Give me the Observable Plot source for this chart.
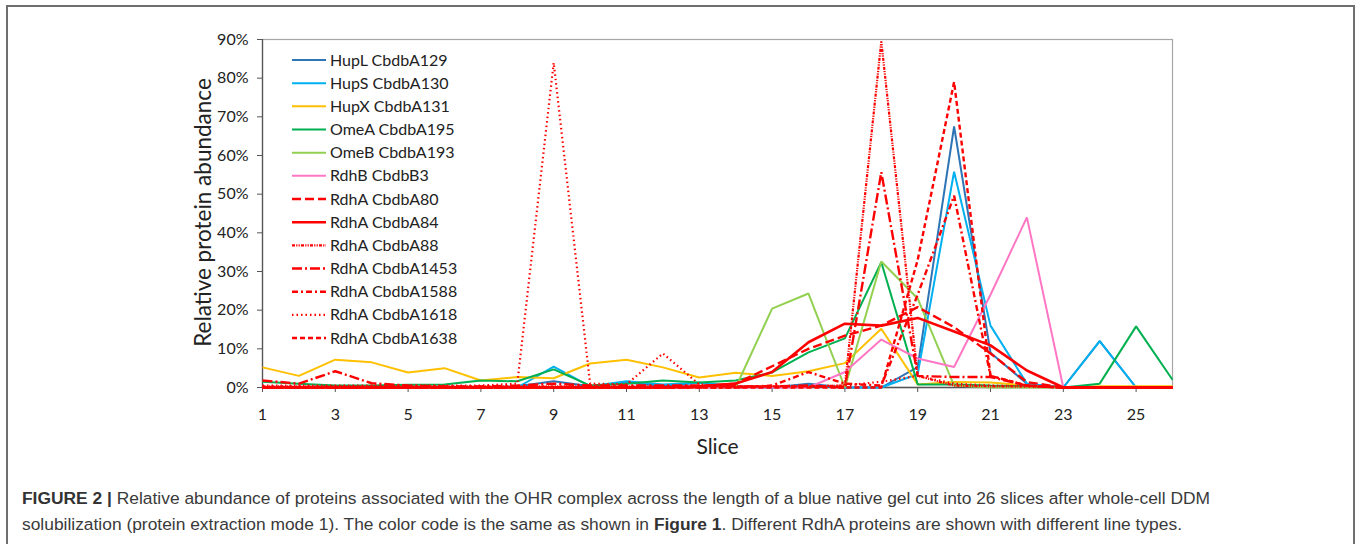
<!DOCTYPE html>
<html><head><meta charset="utf-8">
<script src="https://cdn.jsdelivr.net/npm/d3@7"></script>
<script src="https://cdn.jsdelivr.net/npm/@observablehq/plot@0.6"></script>
<style>
body{margin:0;background:#fff;width:1360px;height:544px;overflow:hidden;position:relative;font-family:Lato,sans-serif}
#frame{position:absolute;left:6px;top:5px;width:1349px;height:600px;border:2px solid #6f6f6f;box-sizing:border-box}
#chart{position:absolute;left:0;top:0}
#legend{position:absolute;left:0;top:0}
#caption{position:absolute;left:22px;top:485px;font-family:"Liberation Sans",Arial,sans-serif;font-size:17.4px;color:#3a3a3a;line-height:26px;white-space:nowrap}
#caption b{color:#333}
</style></head><body>
<div id="frame"></div>
<div id="chart"></div>
<svg id="legend" width="1360" height="470"></svg>
<div id="caption"><b>FIGURE 2 |</b> Relative abundance of proteins associated with the OHR complex across the length of a blue native gel cut into 26 slices after whole-cell DDM<br>solubilization (protein extraction mode 1). The color code is the same as shown in <b>Figure 1</b>. Different RdhA proteins are shown with different line types.</div>
<script>
const slices = d3.range(1, 27);
const xTicks = [1,3,5,7,9,11,13,15,17,19,21,23,25];
const yTicks = [0,10,20,30,40,50,60,70,80,90];

const seriesNames = ["HupL CbdbA129","HupS CbdbA130","HupX CbdbA131","OmeA CbdbA195","OmeB CbdbA193","RdhB CbdbB3","RdhA CbdbA80","RdhA CbdbA84","RdhA CbdbA88","RdhA CbdbA1453","RdhA CbdbA1588","RdhA CbdbA1618","RdhA CbdbA1638"];
const seriesColors = ["#2E75B6","#00B0F0","#FFC000","#00B050","#92D050","#FF77C4","#FF0000","#FF0000","#FF0000","#FF0000","#FF0000","#FF0000","#FF0000"];
const seriesDash = [null,null,null,null,null,null,"9,4",null,"3,1.2,1.2,1.2,1.2,1.2","10,3,2,3","6,3,2,3","1.5,3","5,3"];
const seriesWidth = [2,2,2,2,2,2,2.4,2.6,2.2,2.4,2.4,2.2,2.4];

const hupL   = [0,0,0,0,0,0,0,0.3,1.6,0.3,1.3,0.4,1.2,0.2,0,1,0,0,5.3,67.5,9,1,0,12,0,0];
const hupS   = [0,0,0,0,0,0,0,0,5.4,0.3,1.6,0.8,1.2,0.3,0,0.5,0,0,3.5,55.8,16,1,0,12,0,0];
const hupX   = [5.2,3.0,7.2,6.5,3.9,5.0,1.8,2.7,2.4,6.2,7.2,5.2,2.6,3.8,3.0,4.2,6.3,15.2,0.8,1.4,1.3,0.5,0,0.3,0.3,0.3];
const omeA   = [1.5,1.0,0.5,0.5,0.7,0.8,1.8,1.6,4.7,0.5,1.0,1.8,1.3,1.8,3.9,9.1,12.7,32.4,0.8,0.8,0.5,0.3,0,1,15.8,2];
const omeB   = [0,0,0,0,0,0,0,0,0,0,0,0,0,0,20.4,24.3,0,32.6,23,0.5,0,0,0,0,0,0];
const rdhB   = [0,0,0,0,0,0,0,0,0,0,0,0,0,0,0,0,4,12.4,7.5,5.3,24,44,0,0,0,0];
const a80    = [0,0,0,0,0,0,0,0,0,0,0,0,0.3,1,5.5,10,13.4,16,20.8,15.6,8.8,1.4,0,0,0,0];
const a84    = [0,0,0,0,0,0,0,0,0,0,0,0,0.3,1,4,11.7,16.5,16,18,14.5,10.9,4.4,0,0,0,0];
const a88    = [0.3,0.3,0.3,0.3,0.3,0.3,0.3,0.3,0.3,0.3,0.3,0.3,0.3,0.3,0.3,0.3,0.5,89.5,3,0.5,0.3,0.3,0,0,0,0];
const a1453  = [1.8,1.0,4.2,1.1,0.5,0.3,0.3,0.5,1,0.5,0.5,0.5,0.5,0.3,0.3,0.5,0,55.7,3,2.7,2.7,0.5,0,0,0,0];
const a1588  = [0,0,0,0,0,0,0,0,0,0,0,0,0,0,0.5,4,1,0.5,24,49.6,3,0.5,0,0,0,0];
const a1618  = [0.5,0.5,0.5,0.5,0.5,0.5,0.5,1,84,1,0.8,8.8,0.8,0.3,0.3,0.3,0.5,1.5,3,1,0.5,0.3,0,0,0,0];
const a1638  = [0,0,0,0,0,0,0,0,0,0,0,0,0,0,0,0,0,0,33,79,3,0.5,0,0,0,0];
const seriesValues = [hupL,hupS,hupX,omeA,omeB,rdhB,a80,a84,a88,a1453,a1588,a1618,a1638];

const lineMarks = seriesNames.map((name, i) => {
  const rows = slices.map((s, j) => ({slice: s, value: seriesValues[i][j], name}));
  return Plot.line(rows, {x: "slice", y: "value", stroke: seriesColors[i], strokeWidth: seriesWidth[i],
    strokeDasharray: seriesDash[i] || undefined, strokeLinejoin: "miter", strokeLinecap: "butt"});
});

const chart = Plot.plot({
  width: 1360, height: 470,
  marginLeft: 262, marginRight: 188, marginTop: 39, marginBottom: 83,
  style: {fontFamily: "Lato, sans-serif", background: "transparent", color: "#222", overflow: "visible"},
  x: {domain: [1, 26]},
  y: {domain: [0, 90]},
  marks: [
    Plot.frame({stroke: "#a6a6a6", strokeWidth: 1.2}),
    Plot.ruleX([1], {stroke: "#555", strokeWidth: 1.3}),
    Plot.ruleY([0], {stroke: "#555", strokeWidth: 1.3}),
    Plot.axisX({ticks: xTicks, tickSize: 5, tickPadding: 16, tickFormat: d => d, fontSize: 16, label: null, stroke: "#555"}),
    Plot.axisY({ticks: yTicks, tickSize: 5, tickPadding: 9, tickFormat: d => d + "%", fontSize: 16, label: null, stroke: "#555"}),
    Plot.text(["Relative protein abundance"], {frameAnchor: "left", textAnchor: "middle", lineAnchor: "middle", dx: -59, dy: -1, rotate: -90, fontSize: 22.5, fill: "#222"}),
    Plot.text(["Slice"], {frameAnchor: "bottom", lineAnchor: "middle", dy: 60, fontSize: 21, fill: "#222"}),
    ...lineMarks
  ]
});
document.getElementById("chart").appendChild(chart);

// legend
const lg = d3.select("#legend");
seriesNames.forEach((name, i) => {
  const y = 60 + i * 23.17;
  lg.append("line").attr("x1", 292).attr("x2", 326).attr("y1", y).attr("y2", y)
    .attr("stroke", seriesColors[i]).attr("stroke-width", seriesWidth[i])
    .attr("stroke-dasharray", seriesDash[i]);
  lg.append("text").attr("x", 330).attr("y", y).attr("dy", "0.35em")
    .attr("font-family", "Lato, sans-serif").attr("font-size", 16).attr("fill", "#222").text(name);
});
</script>
</body></html>
